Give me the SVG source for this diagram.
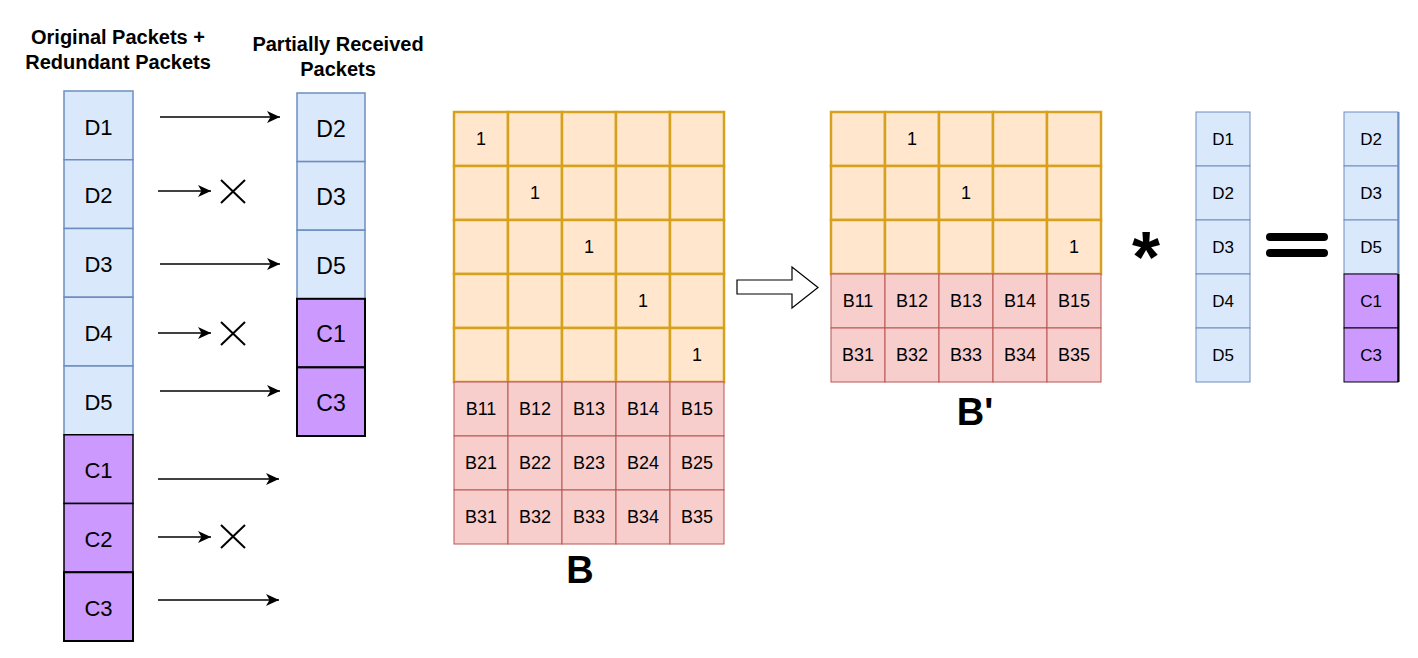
<svg xmlns="http://www.w3.org/2000/svg" width="1418" height="658" viewBox="0 0 1418 658">
<style>
text{font-family:"Liberation Sans",Arial,sans-serif;fill:#000;text-anchor:middle;dominant-baseline:central}
.title{font-weight:bold;font-size:20px;dominant-baseline:auto}
.big{font-weight:bold;font-size:38px;dominant-baseline:auto}
.blue{fill:#dae8fc;stroke:#6c8ebf;stroke-width:1.5}
.purp{fill:#cc99ff;stroke:#000;stroke-width:1.5}
.org{fill:#ffe6cc;stroke:#d6a21e;stroke-width:2.5}
.pink{fill:#f8cecc;stroke:#b85450;stroke-width:1}
.t21{font-size:22px}
.t22{font-size:23px}
.t17{font-size:18px}
.t16{font-size:17px}
.arr{stroke:#000;stroke-width:1.5;fill:none;marker-end:url(#ah)}
.x{stroke:#000;stroke-width:2}
</style>
<defs>
<marker id="ah" markerUnits="userSpaceOnUse" markerWidth="14" markerHeight="12" refX="13" refY="6" orient="auto">
<path d="M0,0 L13,6 L0,12 L3.5,6 Z" fill="#000"/>
</marker>
</defs>
<rect width="1418" height="658" fill="#fff"/>

<g id="title-left">
<text class="title" x="118" y="44">Original Packets +</text>
<text class="title" x="118" y="69">Redundant Packets</text>
</g>
<g id="title-mid">
<text class="title" x="338" y="51">Partially Received</text>
<text class="title" x="338" y="76">Packets</text>
</g>

<g id="sent-D1"><rect class="blue" x="64" y="91" width="69" height="68.75"/><text class="t21" x="98.5" y="127">D1</text></g>
<g id="sent-D2"><rect class="blue" x="64" y="159.75" width="69" height="68.75"/><text class="t21" x="98.5" y="195.5">D2</text></g>
<g id="sent-D3"><rect class="blue" x="64" y="228.5" width="69" height="68.75"/><text class="t21" x="98.5" y="264.5">D3</text></g>
<g id="sent-D4"><rect class="blue" x="64" y="297.25" width="69" height="68.75"/><text class="t21" x="98.5" y="333">D4</text></g>
<g id="sent-D5"><rect class="blue" x="64" y="366" width="69" height="68.75"/><text class="t21" x="98.5" y="402">D5</text></g>
<g id="sent-C1"><rect class="purp" x="64" y="434.75" width="69" height="68.75"/><text class="t21" x="98.5" y="470.5">C1</text></g>
<g id="sent-C2"><rect class="purp" x="64" y="503.5" width="69" height="68.75"/><text class="t21" x="98.5" y="539">C2</text></g>
<g id="sent-C3"><rect class="purp" x="64" y="572.25" width="69" height="68.75" style="stroke-width:2"/><text class="t21" x="98.5" y="608">C3</text></g>

<g id="recv-D2"><rect class="blue" x="297" y="93" width="68" height="68.6"/><text class="t22" x="331" y="128.5">D2</text></g>
<g id="recv-D3"><rect class="blue" x="297" y="161.6" width="68" height="68.6"/><text class="t22" x="331" y="197">D3</text></g>
<g id="recv-D5"><rect class="blue" x="297" y="230.2" width="68" height="68.6"/><text class="t22" x="331" y="265.5">D5</text></g>
<g id="recv-C1"><rect class="purp" x="297" y="298.8" width="68" height="68.6" style="stroke-width:2"/><text class="t22" x="331" y="334">C1</text></g>
<g id="recv-C3"><rect class="purp" x="297" y="367.4" width="68" height="68.6" style="stroke-width:2"/><text class="t22" x="331" y="402.5">C3</text></g>

<g id="connectors">
<line class="arr" x1="160" y1="117" x2="280" y2="117"/>
<line class="arr" x1="158" y1="191" x2="211" y2="191"/>
<line class="arr" x1="160" y1="264" x2="280" y2="264"/>
<line class="arr" x1="158" y1="333" x2="211" y2="333"/>
<line class="arr" x1="160" y1="391" x2="280" y2="391"/>
<line class="arr" x1="158" y1="479" x2="279" y2="479"/>
<line class="arr" x1="158" y1="537" x2="211" y2="537"/>
<line class="arr" x1="158" y1="600" x2="279" y2="600"/>
<polygon points="737,280 792,280 792,267 818,287.5 792,308 792,294 737,294" fill="#fff" stroke="#000" stroke-width="1.2"/>
</g>

<g id="lost-D2"><line class="x" x1="221" y1="180" x2="245" y2="203"/><line class="x" x1="245" y1="180" x2="221" y2="203"/></g>
<g id="lost-D4"><line class="x" x1="221" y1="322" x2="245" y2="345"/><line class="x" x1="245" y1="322" x2="221" y2="345"/></g>
<g id="lost-C2"><line class="x" x1="221" y1="525" x2="245" y2="548"/><line class="x" x1="245" y1="525" x2="221" y2="548"/></g>

<g id="matrix-B">
<rect class="org" x="454" y="112" width="54" height="54"/><rect class="org" x="508" y="112" width="54" height="54"/><rect class="org" x="562" y="112" width="54" height="54"/><rect class="org" x="616" y="112" width="54" height="54"/><rect class="org" x="670" y="112" width="54" height="54"/>
<rect class="org" x="454" y="166" width="54" height="54"/><rect class="org" x="508" y="166" width="54" height="54"/><rect class="org" x="562" y="166" width="54" height="54"/><rect class="org" x="616" y="166" width="54" height="54"/><rect class="org" x="670" y="166" width="54" height="54"/>
<rect class="org" x="454" y="220" width="54" height="54"/><rect class="org" x="508" y="220" width="54" height="54"/><rect class="org" x="562" y="220" width="54" height="54"/><rect class="org" x="616" y="220" width="54" height="54"/><rect class="org" x="670" y="220" width="54" height="54"/>
<rect class="org" x="454" y="274" width="54" height="54"/><rect class="org" x="508" y="274" width="54" height="54"/><rect class="org" x="562" y="274" width="54" height="54"/><rect class="org" x="616" y="274" width="54" height="54"/><rect class="org" x="670" y="274" width="54" height="54"/>
<rect class="org" x="454" y="328" width="54" height="54"/><rect class="org" x="508" y="328" width="54" height="54"/><rect class="org" x="562" y="328" width="54" height="54"/><rect class="org" x="616" y="328" width="54" height="54"/><rect class="org" x="670" y="328" width="54" height="54"/>
<text class="t17" x="481" y="139">1</text>
<text class="t17" x="535" y="193">1</text>
<text class="t17" x="589" y="247">1</text>
<text class="t17" x="643" y="301">1</text>
<text class="t17" x="697" y="355">1</text>
<rect class="pink" x="454" y="382" width="54" height="54"/><rect class="pink" x="508" y="382" width="54" height="54"/><rect class="pink" x="562" y="382" width="54" height="54"/><rect class="pink" x="616" y="382" width="54" height="54"/><rect class="pink" x="670" y="382" width="54" height="54"/>
<rect class="pink" x="454" y="436" width="54" height="54"/><rect class="pink" x="508" y="436" width="54" height="54"/><rect class="pink" x="562" y="436" width="54" height="54"/><rect class="pink" x="616" y="436" width="54" height="54"/><rect class="pink" x="670" y="436" width="54" height="54"/>
<rect class="pink" x="454" y="490" width="54" height="54"/><rect class="pink" x="508" y="490" width="54" height="54"/><rect class="pink" x="562" y="490" width="54" height="54"/><rect class="pink" x="616" y="490" width="54" height="54"/><rect class="pink" x="670" y="490" width="54" height="54"/>
<text class="t17" x="481" y="409">B11</text><text class="t17" x="535" y="409">B12</text><text class="t17" x="589" y="409">B13</text><text class="t17" x="643" y="409">B14</text><text class="t17" x="697" y="409">B15</text>
<text class="t17" x="481" y="463">B21</text><text class="t17" x="535" y="463">B22</text><text class="t17" x="589" y="463">B23</text><text class="t17" x="643" y="463">B24</text><text class="t17" x="697" y="463">B25</text>
<text class="t17" x="481" y="517">B31</text><text class="t17" x="535" y="517">B32</text><text class="t17" x="589" y="517">B33</text><text class="t17" x="643" y="517">B34</text><text class="t17" x="697" y="517">B35</text>
<text class="big" x="580" y="583">B</text>
</g>

<g id="matrix-Bprime">
<rect class="org" x="831" y="112" width="54" height="54"/><rect class="org" x="885" y="112" width="54" height="54"/><rect class="org" x="939" y="112" width="54" height="54"/><rect class="org" x="993" y="112" width="54" height="54"/><rect class="org" x="1047" y="112" width="54" height="54"/>
<rect class="org" x="831" y="166" width="54" height="54"/><rect class="org" x="885" y="166" width="54" height="54"/><rect class="org" x="939" y="166" width="54" height="54"/><rect class="org" x="993" y="166" width="54" height="54"/><rect class="org" x="1047" y="166" width="54" height="54"/>
<rect class="org" x="831" y="220" width="54" height="54"/><rect class="org" x="885" y="220" width="54" height="54"/><rect class="org" x="939" y="220" width="54" height="54"/><rect class="org" x="993" y="220" width="54" height="54"/><rect class="org" x="1047" y="220" width="54" height="54"/>
<text class="t17" x="912" y="139">1</text>
<text class="t17" x="966" y="193">1</text>
<text class="t17" x="1074" y="247">1</text>
<rect class="pink" x="831" y="274" width="54" height="54"/><rect class="pink" x="885" y="274" width="54" height="54"/><rect class="pink" x="939" y="274" width="54" height="54"/><rect class="pink" x="993" y="274" width="54" height="54"/><rect class="pink" x="1047" y="274" width="54" height="54"/>
<rect class="pink" x="831" y="328" width="54" height="54"/><rect class="pink" x="885" y="328" width="54" height="54"/><rect class="pink" x="939" y="328" width="54" height="54"/><rect class="pink" x="993" y="328" width="54" height="54"/><rect class="pink" x="1047" y="328" width="54" height="54"/>
<text class="t17" x="858" y="301">B11</text><text class="t17" x="912" y="301">B12</text><text class="t17" x="966" y="301">B13</text><text class="t17" x="1020" y="301">B14</text><text class="t17" x="1074" y="301">B15</text>
<text class="t17" x="858" y="355">B31</text><text class="t17" x="912" y="355">B32</text><text class="t17" x="966" y="355">B33</text><text class="t17" x="1020" y="355">B34</text><text class="t17" x="1074" y="355">B35</text>
<text class="big" x="975" y="425">B'</text>
</g>

<g id="times"><text x="1146" y="282" style="font-size:72px;font-weight:bold;dominant-baseline:auto">*</text></g>

<g id="vector-D">
<rect class="blue" x="1196" y="112" width="54" height="54" style="stroke-width:1"/><text class="t16" x="1223" y="139.5">D1</text>
<rect class="blue" x="1196" y="166" width="54" height="54" style="stroke-width:1"/><text class="t16" x="1223" y="193.5">D2</text>
<rect class="blue" x="1196" y="220" width="54" height="54" style="stroke-width:1"/><text class="t16" x="1223" y="247.5">D3</text>
<rect class="blue" x="1196" y="274" width="54" height="54" style="stroke-width:1"/><text class="t16" x="1223" y="301.5">D4</text>
<rect class="blue" x="1196" y="328" width="54" height="54" style="stroke-width:1"/><text class="t16" x="1223" y="355.5">D5</text>
</g>

<g id="equals"><line x1="1270" y1="237" x2="1324" y2="237" stroke="#000" stroke-width="8" stroke-linecap="round"/><line x1="1270" y1="253" x2="1324" y2="253" stroke="#000" stroke-width="8" stroke-linecap="round"/></g>

<g id="vector-result">
<rect class="blue" x="1344" y="112" width="54" height="54" style="stroke-width:1"/><text class="t16" x="1371" y="139.5">D2</text>
<rect class="blue" x="1344" y="166" width="54" height="54" style="stroke-width:1"/><text class="t16" x="1371" y="193.5">D3</text>
<rect class="blue" x="1344" y="220" width="54" height="54" style="stroke-width:1"/><text class="t16" x="1371" y="247.5">D5</text>
<rect class="purp" x="1344" y="274" width="54" height="54" style="stroke-width:1"/><text class="t16" x="1371" y="301.5">C1</text>
<rect class="purp" x="1344" y="328" width="54" height="54" style="stroke-width:1"/><text class="t16" x="1371" y="355.5">C3</text>
<line x1="1398.5" y1="112" x2="1398.5" y2="274" stroke="#6c8ebf" stroke-width="2"/>
<line x1="1398.5" y1="274" x2="1398.5" y2="382" stroke="#000" stroke-width="2"/>
</g>
</svg>
